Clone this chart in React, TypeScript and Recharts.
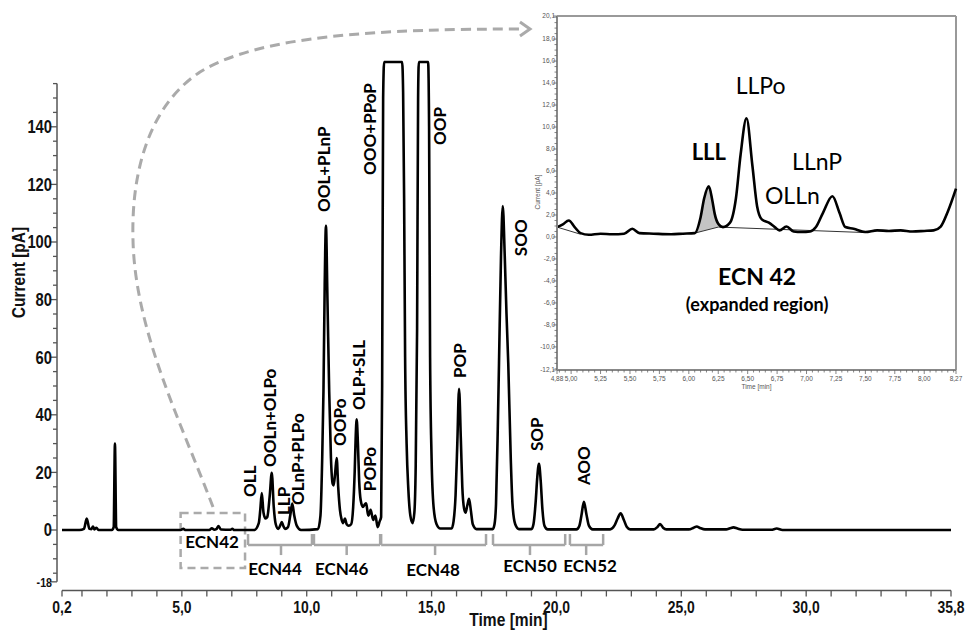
import React from "react";
import {
  ComposedChart,
  Line,
  Area,
  XAxis,
  YAxis,
  ReferenceLine,
  ReferenceDot,
  ReferenceArea,
  Label,
} from "recharts";

// ---- main chromatogram ----
const traceTime = [
  0.2, 0.9, 1.08, 1.19, 1.3, 1.38, 1.44, 1.5, 1.58, 1.66, 2.2, 2.27, 2.32, 2.37, 2.45,
  4.95, 5.06, 5.15, 6.1, 6.2, 6.3, 6.38, 6.47, 6.56, 6.95, 7.02, 7.1, 7.9,
  8.08, 8.14, 8.2, 8.27, 8.35, 8.42, 8.52, 8.6, 8.68, 8.76, 8.86, 8.95, 9.0, 9.06, 9.13,
  9.25, 9.34, 9.42, 9.5, 9.6, 9.77, 10.45, 10.55, 10.62, 10.67, 10.72, 10.77, 10.83, 10.9,
  10.97, 11.04, 11.08, 11.14, 11.2, 11.26, 11.33, 11.4, 11.46, 11.53, 11.6, 11.68, 11.78,
  11.86, 11.92, 11.96, 12.0, 12.05, 12.1, 12.16, 12.25, 12.32, 12.38, 12.44, 12.47, 12.56,
  12.66, 12.75, 12.84, 12.92, 12.98, 13.02, 13.06, 13.1, 13.82, 13.86, 13.9, 13.94, 14.0,
  14.07, 14.15, 14.24, 14.31, 14.36, 14.42, 14.46, 14.49, 14.86, 14.9, 14.94, 15.0, 15.08,
  15.2, 15.35, 15.8, 15.88, 15.96, 16.03, 16.1, 16.17, 16.23, 16.3, 16.36, 16.43, 16.5,
  16.57, 16.65, 16.8, 17.45, 17.52, 17.58, 17.65, 17.7, 17.78, 17.85, 17.93, 18.0, 18.07,
  18.17, 18.24, 18.35, 18.5, 19.0, 19.08, 19.17, 19.23, 19.3, 19.37, 19.44, 19.52, 19.65,
  20.8, 20.92, 21.0, 21.1, 21.2, 21.3, 21.45, 22.15, 22.32, 22.45, 22.57, 22.7, 22.82,
  22.95, 23.9, 24.04, 24.15, 24.27, 24.4, 25.3, 25.5, 25.62, 25.75, 25.95, 26.8, 26.95,
  27.09, 27.25, 27.45, 28.6, 28.82, 29.05, 35.8,
];
const traceCurrent = [
  0, 0, 0.4, 4, 0.4, 0.3, 1.2, 0.2, 0.8, 0, 0, 1, 30, 1, 0,
  0, 0.4, 0, 0, 0.6, 0.1, 0.3, 1.4, 0.2, 0.1, 0.4, 0, 0,
  2.4, 7, 12.8, 6, 4, 4.5, 12, 19.9, 8, 2, 0.4, 1.8, 2.8, 1.5, 0.4,
  1, 5, 9.2, 5, 1.5, 0, 0.3, 5, 25, 48, 85, 105.6, 80, 48,
  25, 16, 15.5, 20, 25, 15, 7, 3.5, 2.4, 4, 2, 1.5, 2,
  8, 20, 32, 38.4, 30, 17, 10.4, 8, 8.8, 9.3, 6, 5, 7,
  3.5, 5, 1, 3, 4.5, 50, 150, 162.5, 162.5, 152, 115, 60, 30,
  14, 5, 2.4, 6, 20, 70, 150, 162.5, 162.5, 140, 60, 25, 8,
  2, 0.5, 0.5, 3, 12, 30, 49, 32, 15, 7.5, 6, 8.5, 10.8,
  7, 2, 0.3, 0.3, 2, 9, 35, 58, 95, 112.5, 95, 75, 58,
  25, 9, 2, 0.3, 0.3, 2, 10, 18, 23, 17, 7, 1.5, 0.2,
  0.2, 1.5, 5, 9.8, 5.5, 1.5, 0.2, 0.2, 1.5, 4, 5.8, 3.5, 1,
  0.2, 0.2, 1, 2.1, 0.8, 0.2, 0.2, 0.8, 1.2, 0.7, 0.2, 0.2, 0.6,
  0.9, 0.5, 0.1, 0.1, 0.5, 0, 0,
];

const peakNames = [
  "OLL", "OOLn+OLPo", "LLP", "OLnP+PLPo", "OOL+PLnP", "OOPo", "OLP+SLL",
  "POPo", "OOO+PPoP", "OOP", "POP", "SOO", "SOP", "AOO",
];
const peakLabelTime = [7.73, 8.52, 9.07, 9.65, 10.69, 11.33, 12.09, 12.51, 12.53, 15.34, 16.14, 18.58, 19.22, 21.1];
const peakLabelCurrent = [11.5, 21.9, 5.2, 8.7, 110.4, 29.2, 41.7, 13.5, 123.3, 133.7, 52.8, 95.1, 27.4, 15.6];

const ecnNames = ["ECN44", "ECN46", "ECN48", "ECN50", "ECN52"];
const ecnStart = [7.65, 10.29, 12.98, 17.46, 20.54];
const ecnEnd = [10.21, 12.94, 17.18, 20.35, 21.87];
const ecnMid = [8.97, 11.6, 15.14, 18.94, 21.19];
const ecnLabelTime = [8.73, 11.4, 15.06, 18.94, 21.35];
const ecnLabelCurrent = [-15.6, -15.6, -16, -14.6, -14.6];

const mainXLabelValues = [0.2, 5, 10, 15, 20, 25, 30, 35.8];
const mainXLabels = ["0,2", "5,0", "10,0", "15,0", "20,0", "25,0", "30,0", "35,8"];
const mainYLabelValues = [-18, 0, 20, 40, 60, 80, 100, 120, 140];

// ---- inset (ECN 42 expanded) ----
const insetTime = [
  4.88, 4.93, 4.98, 5.03, 5.08, 5.15, 5.25, 5.35, 5.45, 5.52, 5.58, 5.7, 5.85, 5.95,
  6.05, 6.1, 6.13, 6.17, 6.2, 6.22, 6.25, 6.29, 6.35, 6.4, 6.44, 6.49, 6.54, 6.58, 6.62,
  6.68, 6.73, 6.77, 6.83, 6.89, 6.96, 7.03, 7.08, 7.14, 7.22, 7.28, 7.33, 7.4, 7.5,
  7.6, 7.7, 7.8, 7.9, 8.0, 8.08, 8.14, 8.2, 8.27,
];
const insetCurrent = [
  0.9, 1.15, 1.5, 0.9, 0.35, 0.2, 0.3, 0.25, 0.3, 0.75, 0.35, 0.3, 0.25, 0.3,
  0.35, 1.8, 3.5, 4.6, 3.3, 2.1, 1.2, 0.9, 1.3, 3.5, 7.5, 10.8, 6.5, 2.8, 1.6,
  1.3, 0.9, 0.6, 0.95, 0.5, 0.45, 0.5, 0.9, 2.2, 3.7, 2.2, 0.9, 0.75, 0.45,
  0.6, 0.55, 0.6, 0.5, 0.55, 0.6, 0.95, 2.3, 4.4,
];
const baseATime = [4.88, 5.08];
const baseAValue = [0.9, 0.25];
const baseBTime = [6.05, 6.25, 7.5];
const baseBValue = [0.35, 0.9, 0.4];
const lllTime = [6.05, 6.1, 6.13, 6.17, 6.2, 6.22, 6.25];
const lllBase = [0.35, 0.5, 0.58, 0.68, 0.76, 0.82, 0.9];

const insetNames = ["LLPo", "LLL", "LLnP", "OLLn", "ECN 42", "(expanded region)"];
const insetLabelTime = [6.61, 6.17, 7.09, 6.88, 6.58, 6.58];
const insetLabelCurrent = [13.0, 7.0, 6.1, 3.0, -4.4, -6.7];
const insetLabelSize = [23, 22, 23, 23, 23, 18];
const insetLabelBold = [false, true, false, false, true, true];

const insetXLabelValues = [4.88, 5, 5.25, 5.5, 5.75, 6, 6.25, 6.5, 6.75, 7, 7.25, 7.5, 7.75, 8, 8.27];
const insetYLabelValues = [20.1, 18, 16, 14, 12, 10, 8, 6, 4, 2, 0, -2, -4, -6, -8, -10, -12.1];

const mainData = traceTime.map((t, i) => ({ t, v: traceCurrent[i] }));
const insetData = insetTime.map((t, i) => {
  const a = baseATime.indexOf(t);
  const b = baseBTime.indexOf(t);
  const l = lllTime.indexOf(t);
  return {
    t,
    v: insetCurrent[i],
    ba: a >= 0 ? baseAValue[a] : undefined,
    bb: b >= 0 ? baseBValue[b] : undefined,
    lll: l >= 0 ? [lllBase[l], insetCurrent[i]] : undefined,
  };
});

const mainXTicks = [0.2, ...Array.from({ length: 35 }, (_, i) => i + 1), 35.8];
const mainYTicks = [-18, ...Array.from({ length: 35 }, (_, i) => -15 + i * 5)];
const insetXTicks = [4.88, ...Array.from({ length: 68 }, (_, i) => Math.round((4.9 + i * 0.05) * 100) / 100), 8.27];
const insetYTicks = [-12.1, ...Array.from({ length: 65 }, (_, i) => Math.round((-12 + i * 0.5) * 10) / 10), 20.1];

const axisFont = "'Liberation Sans', Arial, sans-serif";
const labelFont = "Lato, 'Open Sans', sans-serif";
const smallFont = "'Liberation Sans', Arial, sans-serif";

const near = (list: number[], v: number) => list.findIndex((x) => Math.abs(x - v) < 1e-6);
const comma = (v: number, d: number) => v.toFixed(d).replace(".", ",");

// bold, horizontally squeezed text (narrow look of the original axis font)
function Narrow(props: { x: number; y: number; size: number; anchor: string; dy?: string; rotate?: boolean; children: any }) {
  const tr = `translate(${props.x},${props.y})${props.rotate ? " rotate(-90)" : ""} scale(0.82,1)`;
  return (
    <text transform={tr} x={0} y={0} dy={props.dy} textAnchor={props.anchor} fontFamily={axisFont} fontWeight={700} fontSize={props.size} fill="#111">
      {props.children}
    </text>
  );
}

function MainXTick(props: any) {
  const i = near(mainXLabelValues, props.payload.value);
  if (i < 0) return <g />;
  return (
    <Narrow x={props.x} y={props.y} dy="0.8em" anchor="middle" size={17}>
      {mainXLabels[i]}
    </Narrow>
  );
}

function MainYTick(props: any) {
  const v = props.payload.value;
  const major = near(mainYLabelValues, v) >= 0;
  const x0 = props.x - 5;
  return (
    <g>
      <line x1={x0 - (major ? 6 : 4)} x2={x0} y1={props.y} y2={props.y} stroke="#555" strokeWidth={1.3} />
      {major && (
        <Narrow x={x0 - 5} y={props.y} dy="0.36em" anchor="end" size={v === -18 ? 13 : 18}>
          {v}
        </Narrow>
      )}
    </g>
  );
}

function InsetXTick(props: any) {
  const i = near(insetXLabelValues, props.payload.value);
  return (
    <g>
      <line x1={props.x} x2={props.x} y1={props.y} y2={props.y + (i >= 0 ? 4 : 2.5)} stroke="#666" strokeWidth={0.8} />
      {i >= 0 && (
        <text x={props.x} y={props.y + 11} textAnchor="middle" fontFamily={smallFont} fontSize={6.5} fill="#555">
          {comma(insetXLabelValues[i], 2)}
        </text>
      )}
    </g>
  );
}

function InsetYTick(props: any) {
  const i = near(insetYLabelValues, props.payload.value);
  return (
    <g>
      <line x1={props.x - (i >= 0 ? 4 : 2.5)} x2={props.x} y1={props.y} y2={props.y} stroke="#666" strokeWidth={0.8} />
      {i >= 0 && (
        <text x={props.x - 2} y={props.y} dy="0.35em" textAnchor="end" fontFamily={smallFont} fontSize={6.5} fill="#555">
          {comma(insetYLabelValues[i], 1)}
        </text>
      )}
    </g>
  );
}

const rotatedText = (name: string) => (p: any) => (
  <text
    x={p.cx}
    y={p.cy}
    dy="0.36em"
    transform={`rotate(-90 ${p.cx} ${p.cy})`}
    fontFamily={labelFont}
    fontWeight={700}
    fontSize={17}
    fill="#000"
  >
    {name}
  </text>
);

const flatText = (name: string, size: number, bold: boolean) => (p: any) => (
  <text x={p.cx} y={p.cy} textAnchor="middle" fontFamily={labelFont} fontWeight={bold ? 700 : 400} fontSize={size} fill="#000">
    {name}
  </text>
);

const bracketStroke = { stroke: "#a6a6a6", strokeWidth: 2.5 };

export default function App() {
  return (
    <div style={{ position: "absolute", left: 0, top: 0, width: 974, height: 630, background: "#fff" }}>
      <div style={{ position: "absolute", left: 0, top: 0 }}>
        <ComposedChart width={974} height={630} data={mainData} margin={{ top: 60.56, right: 23, bottom: 0, left: 0 }}>
          <XAxis
            dataKey="t"
            type="number"
            domain={[0.2, 35.8]}
            ticks={mainXTicks}
            interval={0}
            height={39.52}
            tick={MainXTick}
            tickSize={6}
            tickMargin={3}
            tickLine={{ stroke: "#555", strokeWidth: 1.3 }}
            axisLine={{ stroke: "#555", strokeWidth: 1.5 }}
            label={
              <Label
                content={(p: any) => (
                  <Narrow x={p.viewBox.x + p.viewBox.width / 2 + 2} y={p.viewBox.y + 36} anchor="middle" size={19}>
                    Time [min]
                  </Narrow>
                )}
              />
            }
          />
          <YAxis
            type="number"
            domain={[-21, 163]}
            ticks={mainYTicks}
            interval={0}
            width={62}
            tick={MainYTick}
            tickSize={0}
            tickMargin={0}
            tickLine={false}
            axisLine={false}
            label={
              <Label
                content={(p: any) => (
                  <Narrow x={p.viewBox.x + 25} y={p.viewBox.y + p.viewBox.height * 0.4} anchor="middle" size={19} rotate>
                    Current [pA]
                  </Narrow>
                )}
              />
            }
          />
          <ReferenceLine segment={[{ x: 0, y: -18 }, { x: 0, y: 155 }]} stroke="#555" strokeWidth={1.5} ifOverflow="visible" />

          <ReferenceArea x1={4.95} x2={7.53} y1={-13.2} y2={5.9} fill="none" stroke="#aaaaaa" strokeWidth={2.5} strokeDasharray="8 5" ifOverflow="visible" />

          {ecnNames.map((n, i) => (
            <ReferenceLine key={n + "h"} segment={[{ x: ecnStart[i], y: -5.2 }, { x: ecnEnd[i], y: -5.2 }]} {...bracketStroke} />
          ))}
          {ecnNames.map((n, i) => (
            <ReferenceLine key={n + "l"} segment={[{ x: ecnStart[i], y: -1.4 }, { x: ecnStart[i], y: -5.2 }]} {...bracketStroke} />
          ))}
          {ecnNames.map((n, i) => (
            <ReferenceLine key={n + "r"} segment={[{ x: ecnEnd[i], y: -1.4 }, { x: ecnEnd[i], y: -5.2 }]} {...bracketStroke} />
          ))}
          {ecnNames.map((n, i) => (
            <ReferenceLine key={n + "m"} segment={[{ x: ecnMid[i], y: -5.2 }, { x: ecnMid[i], y: -8.7 }]} {...bracketStroke} />
          ))}
          {ecnNames.map((n, i) => (
            <ReferenceDot key={n} x={ecnLabelTime[i]} y={ecnLabelCurrent[i]} r={0} shape={flatText(n, 17, true)} />
          ))}
          <ReferenceDot x={6.21} y={-6.25} r={0} shape={flatText("ECN42", 17, true)} />

          {peakNames.map((n, i) => (
            <ReferenceDot key={n} x={peakLabelTime[i]} y={peakLabelCurrent[i]} r={0} shape={rotatedText(n)} />
          ))}

          <Line
            dataKey="v"
            type="monotone"
            stroke="#000"
            strokeWidth={2.6}
            strokeLinejoin="round"
            dot={false}
            activeDot={false}
            isAnimationActive={false}
          />
        </ComposedChart>
      </div>

      <div style={{ position: "absolute", left: 500, top: 0 }}>
        <ComposedChart width={474} height={400} data={insetData} margin={{ top: 16, right: 18, bottom: 0, left: 0 }}>
          <XAxis
            dataKey="t"
            type="number"
            domain={[4.88, 8.27]}
            ticks={insetXTicks}
            interval={0}
            height={30}
            tick={InsetXTick}
            tickSize={0}
            tickMargin={0}
            tickLine={false}
            axisLine={{ stroke: "#888", strokeWidth: 2 }}
            label={
              <Label
                content={(p: any) => (
                  <text x={p.viewBox.x + p.viewBox.width / 2} y={p.viewBox.y + 19} textAnchor="middle" fontFamily={smallFont} fontSize={6.5} fill="#555">
                    Time [min]
                  </text>
                )}
              />
            }
          />
          <YAxis
            type="number"
            domain={[-12.1, 20.1]}
            ticks={insetYTicks}
            interval={0}
            width={57}
            tick={InsetYTick}
            tickSize={0}
            tickMargin={0}
            tickLine={false}
            axisLine={{ stroke: "#888", strokeWidth: 2 }}
            label={
              <Label
                content={(p: any) => {
                  const cx = p.viewBox.x + p.viewBox.width - 17;
                  const cy = p.viewBox.y + 176;
                  return (
                    <text x={cx} y={cy} transform={`rotate(-90 ${cx} ${cy})`} textAnchor="middle" fontFamily={smallFont} fontSize={6.5} fill="#555">
                      Current [pA]
                    </text>
                  );
                }}
              />
            }
          />
          <ReferenceLine y={20.1} stroke="#999" strokeWidth={2} />
          <ReferenceLine x={8.27} stroke="#999" strokeWidth={2} />

          <Area dataKey="lll" type="monotone" stroke="none" fill="#c4c4c4" fillOpacity={1} isAnimationActive={false} />
          <Line dataKey="ba" type="linear" stroke="#333" strokeWidth={1} dot={false} activeDot={false} connectNulls isAnimationActive={false} />
          <Line dataKey="bb" type="linear" stroke="#333" strokeWidth={1} dot={false} activeDot={false} connectNulls isAnimationActive={false} />
          <Line dataKey="v" type="monotone" stroke="#000" strokeWidth={2.6} strokeLinejoin="round" dot={false} activeDot={false} isAnimationActive={false} />

          {insetNames.map((n, i) => (
            <ReferenceDot key={n} x={insetLabelTime[i]} y={insetLabelCurrent[i]} r={0} shape={flatText(n, insetLabelSize[i], insetLabelBold[i])} />
          ))}
        </ComposedChart>
      </div>

      <svg width={974} height={630} style={{ position: "absolute", left: 0, top: 0, pointerEvents: "none" }}>
        <path
          d="M213,507 C180,420 135,330 133,240 C131,170 150,105 200,72 C260,35 380,29 524,29"
          fill="none"
          stroke="#aaaaaa"
          strokeWidth={3}
          strokeDasharray="10 6"
        />
        <path d="M520,22 L530,29 L520,36" fill="none" stroke="#aaaaaa" strokeWidth={3} />
      </svg>
    </div>
  );
}
